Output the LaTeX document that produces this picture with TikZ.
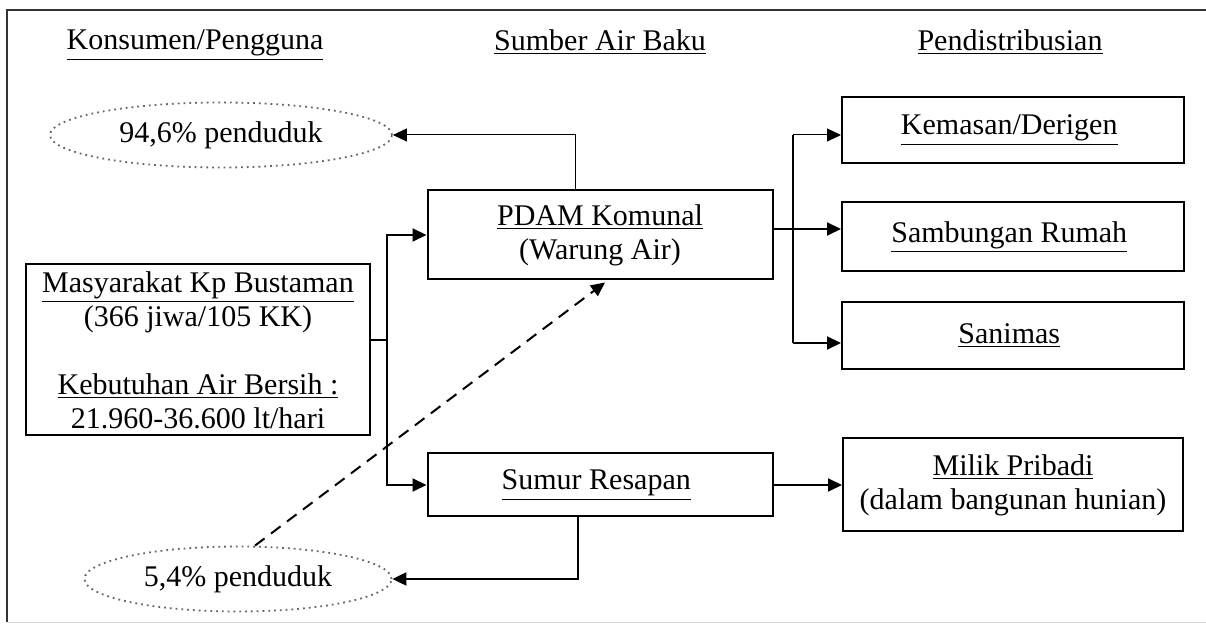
\documentclass[tikz,border=0pt]{standalone}
\usepackage{fontspec}
\setmainfont{Liberation Serif}
\usetikzlibrary{arrows.meta}
\usetikzlibrary{shapes.geometric}
\newcommand\myul[1]{\underline{#1}}
\def\colL{198}
\def\colM{600}
\def\colR{1013}

\begin{document}
\begin{tikzpicture}[
    x=0.5pt, y=-0.5pt,
    font=\fontsize{15}{17}\selectfont,
    arrowtip/.style={
      -{Triangle[length=7pt,width=6.5pt]}
    },
    link/.style={line width=1pt},
    thinlink/.style={line width=0.5pt},
    box/.style={
      draw, line width=1pt, align=center, inner sep=0pt,
      minimum width=172pt
    },
    oval/.style={
      draw=black!60, dotted, line width=0.9pt, ellipse,
      inner sep=0pt, minimum height=32.5pt
    }
  ]
    \useasboundingbox (0,0) rectangle (1206,624);
    \draw[line width=1pt, black!80] (7,622) -- (7,10) -- (1206,10);
    \draw[black!15] (7,622) -- (1206,622);

    % headings
    \node (HdKons) at (195,45) { \myul{Konsumen/Pengguna} };
    \node (HdSumb) at (\colM,42) { \myul{Sumber Air Baku} };
    \node (HdDist) at (1010,42) { \myul{Pendistribusian} };

    % consumers
    \node[box, minimum width=172pt, minimum height=85.5pt] (Masy) at (\colL,350)
      { \myul{Masyarakat Kp Bustaman}\\ (366 jiwa/105 KK)\\[17pt]
        \myul{Kebutuhan Air Bersih :}\\ 21.960-36.600 lt/hari };
    \node[oval, minimum width=171pt] (PopA) at (221,135) { 94,6\% penduduk };
    \node[oval, minimum width=153.5pt] (PopB) at (238,579) { 5,4\% penduduk };

    % sources
    \node[box, minimum width=172.5pt, minimum height=44.5pt] (PDAM) at (\colM,235)
      { \myul{PDAM Komunal}\\ (Warung Air) };
    \node[box, minimum width=172.5pt, minimum height=31.5pt] (Sumur) at (\colM,485)
      { \myul{Sumur Resapan} };

    % distribution
    \node[box, minimum width=171pt, minimum height=33pt] (Kemas) at (\colR,130)
      { \myul{Kemasan/Derigen} };
    \node[box, minimum width=171pt, minimum height=34.5pt] (Sambung) at (\colR,237)
      { \myul{Sambungan Rumah} };
    \node[box, minimum width=171pt, minimum height=33.5pt] (Sanim) at (\colR,336)
      { \myul{Sanimas} };
    \node[box, minimum width=170pt, minimum height=46.5pt] (Milik) at (\colR,485)
      { \myul{Milik Pribadi}\\ (dalam bangunan hunian) };

    \coordinate (SplitL) at (387,340);
    \coordinate (DistTop) at (793,135);
    \coordinate (DistMid) at (793,229);
    \coordinate (DistBot) at (793,343);

    \draw[link] (Masy.east |- SplitL) -- (SplitL);
    \draw[link,arrowtip] (SplitL) |- (PDAM.west);
    \draw[link,arrowtip] (SplitL) |- (Sumur.west);

    \draw[thinlink,arrowtip] ([xshift=-12.5pt]PDAM.north) |- (PopA.east);
    \draw[link,arrowtip] ([xshift=-11pt]Sumur.south) |- (PopB.east);
    \draw[link,dash pattern=on 6pt off 4pt,arrowtip]
      ([xshift=8.5pt]PopB.north) -- ([xshift=2.5pt,yshift=-1pt]PDAM.south);

    \draw[link] (DistMid -| PDAM.east) -- (DistMid);
    \draw[link] (DistTop) -- (DistBot);
    \draw[thinlink,arrowtip] (DistTop) -- (DistTop -| Kemas.west);
    \draw[link,arrowtip] (DistMid) -- (DistMid -| Sambung.west);
    \draw[link,arrowtip] (DistBot) -- (DistBot -| Sanim.west);
    \draw[link,arrowtip] (Sumur.east) -- (Milik.west);
  \end{tikzpicture}
\end{document}
